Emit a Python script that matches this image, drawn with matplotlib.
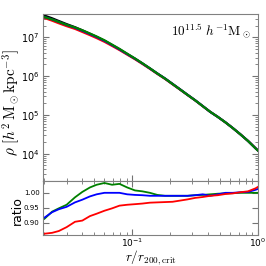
import numpy as np
import matplotlib
matplotlib.use('Agg')
import matplotlib.pyplot as plt

#%% Data

r = [0.020, 0.023, 0.026, 0.030, 0.035, 0.040, 0.046, 0.052, 0.060, 0.069,
     0.079, 0.091, 0.105, 0.120, 0.138, 0.158, 0.182, 0.209, 0.240, 0.275,
     0.316, 0.363, 0.417, 0.479, 0.550, 0.631, 0.724, 0.832, 0.955, 1.000]

# log10 of reference (black) density profile
log_rho_ref = [7.56, 7.49, 7.42, 7.34, 7.26, 7.18, 7.09, 7.01, 6.91, 6.80,
               6.69, 6.57, 6.45, 6.33, 6.20, 6.07, 5.94, 5.80, 5.66, 5.52,
               5.38, 5.23, 5.08, 4.95, 4.81, 4.66, 4.50, 4.33, 4.14, 4.08]

ratio_green = [0.913, 0.937, 0.948, 0.960, 0.985, 1.003, 1.018, 1.027, 1.033, 1.027,
               1.030, 1.018, 1.008, 1.005, 1.000, 0.993, 0.990, 0.990, 0.990, 0.990,
               0.992, 0.993, 0.995, 0.997, 0.998, 0.999, 1.000, 1.000, 1.000, 1.000]
ratio_blue = [0.917, 0.935, 0.945, 0.953, 0.968, 0.977, 0.988, 0.995, 1.000, 1.000,
              1.000, 0.995, 0.993, 0.992, 0.990, 0.990, 0.990, 0.990, 0.990, 0.990,
              0.992, 0.995, 0.990, 0.995, 1.000, 1.000, 1.002, 1.003, 1.010, 1.013]
ratio_red = [0.863, 0.866, 0.872, 0.885, 0.903, 0.907, 0.922, 0.930, 0.940, 0.948,
             0.957, 0.960, 0.962, 0.964, 0.967, 0.968, 0.969, 0.970, 0.974, 0.978,
             0.983, 0.986, 0.990, 0.992, 0.996, 0.998, 1.002, 1.005, 1.015, 1.020]

mass_label = r'$10^{11.5}\ h^{-1}\mathrm{M}_\odot$'

#%% Plot

r = np.array(r)
rho_ref = 10 ** np.array(log_rho_ref)

fig = plt.figure(figsize=(2.66, 2.66), dpi=100)
ax = fig.add_axes([0.162, 0.32, 0.808, 0.626])
axr = fig.add_axes([0.162, 0.118, 0.808, 0.202], sharex=ax)

ax.plot(r, rho_ref, color='black', lw=1.6)
ax.plot(r, rho_ref * np.array(ratio_red), color='red', lw=1.5)
ax.plot(r, rho_ref * np.array(ratio_blue), color='blue', lw=1.5)
ax.plot(r, rho_ref * np.array(ratio_green), color='green', lw=1.6)

axr.plot(r, ratio_green, color='green', lw=1.3)
axr.plot(r, ratio_blue, color='blue', lw=1.3)
axr.plot(r, ratio_red, color='red', lw=1.3)

ax.set_xscale('log')
ax.set_yscale('log')
ax.set_xlim(0.0195, 1.0)
ax.set_ylim(2.0e3, 3.9e7)
axr.set_ylim(0.86, 1.04)
axr.set_yticks([0.90, 0.95, 1.00])
axr.set_yticklabels(['0.90', '0.95', '1.00'])

for a in (ax, axr):
    a.tick_params(which='both', direction='in', right=True, colors='0.45',
                  labelcolor='black', labelsize=7, pad=2.5)
    a.tick_params(which='major', length=4)
    a.tick_params(which='minor', length=2)
    for s in a.spines.values():
        s.set_color('0.5')
ax.tick_params(which='both', labelbottom=False, top=False)
axr.tick_params(which='both', top=True)
axr.tick_params(axis='y', labelsize=5)
axr.tick_params(axis='x', labelsize=6.5, pad=1.5)

ax.text(0.967, 0.905, mass_label, transform=ax.transAxes, ha='right', va='center',
        fontsize=9.5, math_fontfamily='cm')
ax.set_ylabel(r'$\rho\ [h^2\,\mathrm{M}_\odot\mathrm{kpc}^{-3}]$', fontsize=11,
              math_fontfamily='cm')
ax.yaxis.set_label_coords(-0.1, 0.47)
axr.set_ylabel('ratio', fontsize=9)
axr.yaxis.set_label_coords(-0.09, 0.45)
axr.set_xlabel(r'$r/r_{200,\mathrm{crit}}$', fontsize=9.5, math_fontfamily='cm')
axr.xaxis.set_label_coords(0.5, -0.265)

fig.savefig('out.png', dpi=100)
